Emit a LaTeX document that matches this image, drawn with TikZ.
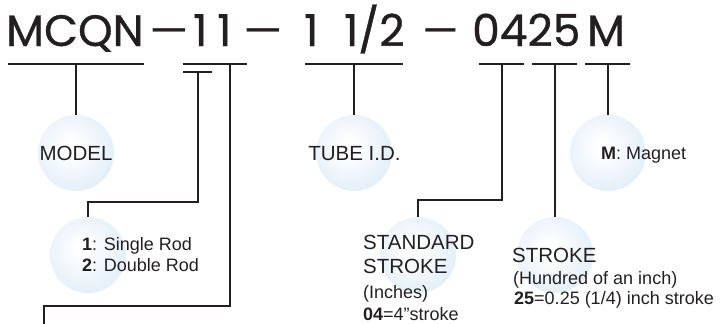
\documentclass[tikz,border=0pt]{standalone}
\usepackage{fontspec}
\setmainfont{Liberation Sans}
\newfontfamily\titlefont{Poppins}[FakeBold=0.8]
\newfontfamily\dashfont{Poppins}
\definecolor{bubblue}{RGB}{208,227,244}
\definecolor{ink}{RGB}{35,31,32}
\pgfdeclareradialshading{bubshade}{\pgfpoint{-4bp}{4bp}}{color(0bp)=(white); color(4bp)=(white); color(46bp)=(bubblue); color(100bp)=(bubblue)}
\begin{document}
\begin{tikzpicture}[x=1pt,y=-1pt,
  bubble/.style={circle,minimum size=76pt,inner sep=0pt,shading=bubshade},
  ttl/.style={font=\titlefont\fontsize{44}{44}\selectfont,text=ink,anchor=base west,inner sep=0pt},
  dsh/.style={font=\dashfont\fontsize{44}{44}\selectfont,text=ink,anchor=base west,inner sep=0pt},
  lbl/.style={font=\fontsize{20.5}{24}\selectfont,text=ink,inner sep=0pt},
  sml/.style={font=\fontsize{18}{21}\selectfont,text=ink,inner sep=0pt,anchor=base west},
  wire/.style={draw=ink,line width=1.1pt}]
\useasboundingbox (0,0) rectangle (721,324);
% bubbles
\node[bubble] (cmodel) at (76,153) {};
\node[bubble] (ctube) at (354,153) {};
\node[bubble] (cmag) at (608,153) {};
\node[bubble] (crod) at (88,255) {};
\node[bubble] (cstd) at (418,255) {};
\node[bubble] (cstk) at (555,255) {};
% title
\node[ttl] (t1) at (6,46) {MCQN};
\node[dsh] (d1) at (148,46) {\scalebox{1.4}[1]{–}};
\node[ttl] (t2) at (193,46) {1\kern10pt1};
\node[dsh] (d2) at (242,46) {\scalebox{1.4}[1]{–}};
\node[ttl] (t3) at (304,46) {1\kern26pt1/2};
\node[dsh] (d3) at (421,46) {\scalebox{1.3}[1]{–}};
\node[ttl] (t4) at (472,46) {0425};
\node[ttl] (t5) at (587,46) {M};
% underline coordinates
\coordinate (umodel) at (76,64);
\coordinate (u11a) at (198,72);
\coordinate (u11b) at (230,64);
\coordinate (utube) at (354,64);
\coordinate (ustd) at (502,64);
\coordinate (ustk) at (555,64);
\coordinate (umag) at (608,64);
\coordinate (uend) at (44,324);
% underlines
\draw[wire] (8,64) -- (144,64);
\draw[wire] (183,64) -- (247,64);
\draw[wire] (183,72) -- (212,72);
\draw[wire] (305,64) -- (403,64);
\draw[wire] (479,64) -- (524,64);
\draw[wire] (532,64) -- (577,64);
\draw[wire] (585,64) -- (630,64);
% connectors
\draw[wire] (umodel) -- (cmodel.north);
\draw[wire] (u11a) -- (198,202) -| (crod.north);
\draw[wire] (u11b) -- (230,306) -| (uend);
\draw[wire] (utube) -- (ctube.north);
\draw[wire] (ustd) -- (502,200) -| (cstd.north);
\draw[wire] (ustk) -- (cstk.north);
\draw[wire] (umag) -- (cmag.north);
% labels
\node[lbl,anchor=base] (lmodel) at (76,160) {MODEL};
\node[lbl,anchor=base] (ltube) at (354.5,160) {TUBE I.D.};
\node[sml] (lmag) at (601,159) {\textbf{M}: Magnet};
\node[sml] (lrod1) at (82,250) {\textbf{1}: Single Rod};
\node[sml] (lrod2) at (82,271) {\textbf{2}: Double Rod};
\node[lbl,anchor=base west] (lstd1) at (363,249) {STANDARD};
\node[lbl,anchor=base west] (lstd2) at (363,273) {STROKE};
\node[sml] (lstd3) at (363,298) {(Inches)};
\node[sml] (lstd4) at (363,320) {\textbf{04}=4"stroke};
\node[lbl,anchor=base west] (lstk1) at (512,262) {STROKE};
\node[sml] (lstk2) at (513,284) {(Hundred of an inch)};
\node[sml] (lstk3) at (514,304) {\textbf{25}=0.25 (1/4) inch stroke};
\end{tikzpicture}
\end{document}
